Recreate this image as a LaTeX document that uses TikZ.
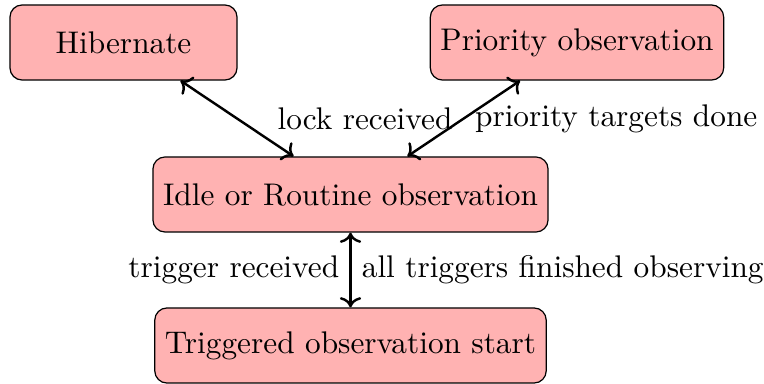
\documentclass[tikz,border=0pt]{standalone}
\usetikzlibrary{arrows.meta}
\begin{document}
\begin{tikzpicture}[x=0.329pt,y=-0.329pt,
  every node/.style={font=\fontsize{10.3pt}{12pt}\selectfont},
  state/.style={draw, fill=red!30, rounded corners=4pt, minimum height=24.7pt, inner sep=3.33pt},
  link/.style={<->, thick}]
\useasboundingbox (0,0) rectangle (764,384);
\node[state, minimum width=74.7pt] (hib) at (123.5,42.5) {Hibernate};
\node[state, minimum width=96pt] (pri) at (577,42.5) {Priority observation};
\node[state, minimum width=130pt] (idle) at (350.5,194.5) {Idle or Routine observation};
\node[state, minimum width=128.6pt] (trig) at (350.5,345.5) {Triggered observation start};
\draw[link] (hib) -- (idle);
\draw[link] (pri) -- node[left] {lock received} node[right] {priority targets done} (idle);
\draw[link] (idle) -- node[left] {trigger received} node[right] {all triggers finished observing} (trig);
\end{tikzpicture}
\end{document}
